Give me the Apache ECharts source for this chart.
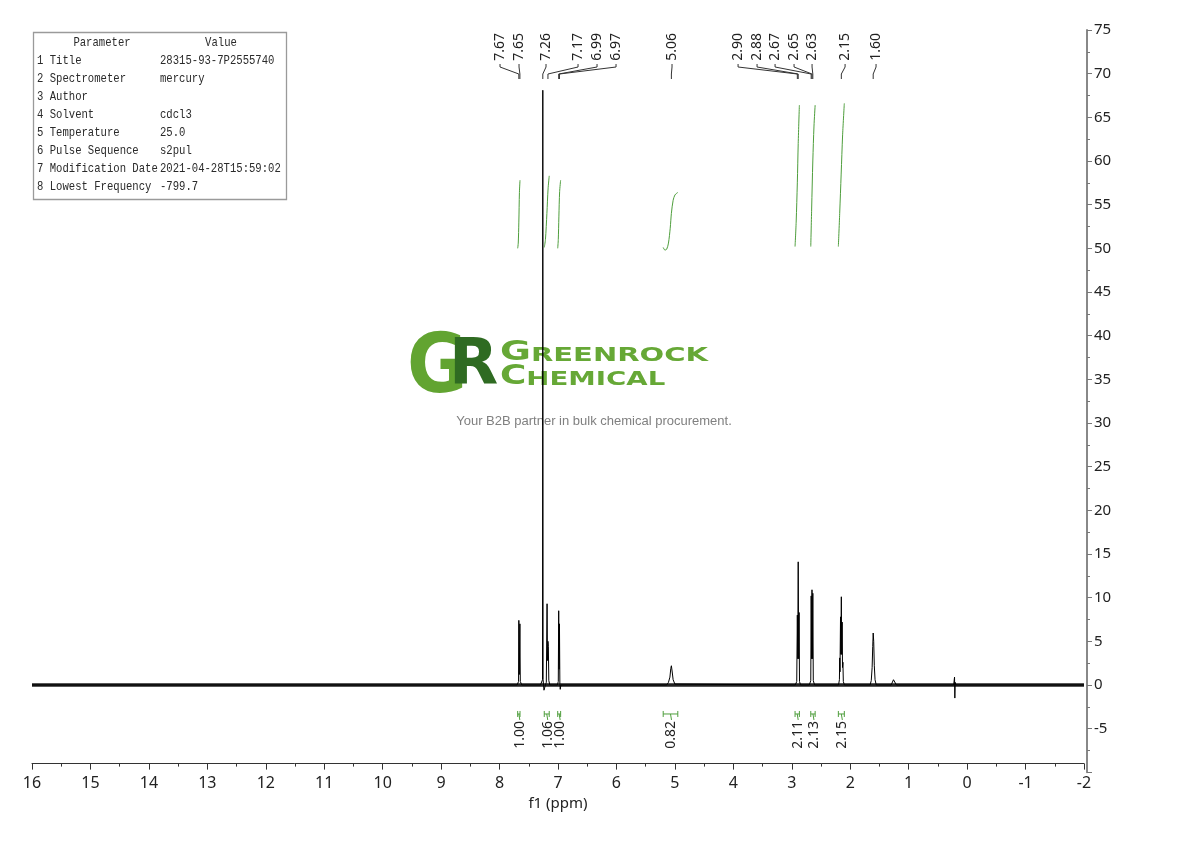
<!DOCTYPE html>
<html>
<head>
<meta charset="utf-8">
<script src="https://cdn.jsdelivr.net/npm/echarts@6/dist/echarts.min.js"></script>
<style>
html,body{margin:0;padding:0;background:#fff;}
#c{width:1190px;height:841px;}
</style>
</head>
<body>
<div id="c"></div>
<script>
// ---------- data ----------
const xRange = [-2, 16];          // ppm (axis drawn reversed)
const yRange = [-10, 75];         // intensity
const yStep = 5;

// spectrum trace [ppm, intensity]
const spectrum = [
  [16.00,0],[7.70,0],[7.675,0.4],[7.670,7.4],[7.662,1.2],[7.652,7.0],[7.645,0.4],[7.62,0],
  [7.30,0],[7.265,0.6],[7.260,68.1],[7.255,0.6],[7.24,-0.6],[7.215,0],
  [7.20,0.3],[7.187,9.3],[7.180,2.8],[7.172,5.0],[7.165,4.4],[7.157,0.5],[7.14,0],
  [7.01,0],[6.995,0.4],[6.988,8.5],[6.982,1.8],[6.975,7.0],[6.968,0.2],[6.962,-0.5],[6.95,0],
  [5.14,0],[5.11,0.3],[5.085,0.9],[5.07,1.9],[5.06,2.2],[5.048,1.6],[5.03,0.6],[5.00,0.1],[4.98,0],
  [2.94,0],[2.915,0.4],[2.905,8.0],[2.898,3.0],[2.890,14.1],[2.882,3.0],[2.875,8.3],[2.868,0.4],[2.85,0],
  [2.70,0],[2.675,0.5],[2.668,10.2],[2.661,3.0],[2.654,10.9],[2.647,3.0],[2.640,10.5],[2.632,0.5],[2.61,0],
  [2.20,0],[2.185,0.6],[2.180,3.1],[2.175,1.5],[2.166,7.8],[2.160,3.5],[2.152,10.1],[2.146,3.5],[2.138,7.2],[2.132,2.0],[2.125,2.6],[2.118,0.4],[2.10,0],
  [1.66,0],[1.64,0.5],[1.625,2.0],[1.615,4.4],[1.607,5.95],[1.598,5.0],[1.588,2.2],[1.575,0.6],[1.555,0],
  [1.30,0],[1.26,0.6],[1.24,0.4],[1.21,0],
  [0.23,0],[0.215,0.9],[0.210,-1.5],[0.204,0.3],[0.19,0],
  [-2.00,0]
];
// noise floor of the baseline
const baseline = [[16.0,0],[-2.0,0]];

// integral curves [ppm, level]
const integral1 = [[7.690,50.0],[7.680,50.6],[7.670,53.0],[7.660,56.4],[7.650,57.8]];
const integral2 = [[7.235,50.1],[7.215,51.0],[7.190,54.0],[7.170,56.8],[7.150,58.3]];
const integral3 = [[7.005,50.0],[6.995,51.0],[6.985,53.6],[6.972,56.5],[6.955,57.8]];
const integral4 = [[5.200,50.1],[5.170,49.8],[5.140,49.9],[5.110,50.6],[5.080,52.3],[5.060,54.0],[5.030,55.5],[5.000,56.1],[4.970,56.3],[4.950,56.4]];
const integral5 = [[2.944,50.2],[2.925,53.0],[2.905,57.5],[2.890,62.0],[2.870,66.4]];
const integral6 = [[2.675,50.2],[2.660,54.5],[2.640,60.0],[2.620,64.0],[2.600,66.4]];
const integral7 = [[2.203,50.2],[2.180,54.0],[2.155,58.5],[2.130,63.0],[2.101,66.6]];
const integrals = [integral1,integral2,integral3,integral4,integral5,integral6,integral7];
const integralValues = ['1.00','1.06','1.00','0.82','2.11','2.13','2.15'];

// peak picking
const peakPpm  = [7.670,7.652,7.260,7.172,6.988,6.975,5.06,2.905,2.890,2.668,2.654,2.640,2.152,1.607];
const peakText = ['7.67','7.65','7.26','7.17','6.99','6.97','5.06','2.90','2.88','2.67','2.65','2.63','2.15','1.60'];

// parameter table
const paramHeader = ['Parameter','Value'];
const paramNames  = ['1 Title','2 Spectrometer','3 Author','4 Solvent','5 Temperature','6 Pulse Sequence','7 Modification Date','8 Lowest Frequency'];
const paramValues = ['28315-93-7P2555740','mercury','','cdcl3','25.0','s2pul','2021-04-28T15:59:02','-799.7'];

// ---------- layout (not data) ----------
// where the rotated peak labels sit, spread apart along the ppm axis
const labelSlots = [7.992,7.667,7.205,6.657,6.332,6.007,5.049,3.919,3.594,3.286,2.961,2.653,2.088,1.558];
const GREEN = '#4e9e3c';
const FONT = '"Noto Sans", "Open Sans", sans-serif';

const chart = echarts.init(document.getElementById('c'), null, {renderer:'canvas'});

const tableEls = [];
tableEls.push({type:'rect', z:0, shape:{x:33.5,y:32.5,width:253,height:167}, style:{fill:'#fff', stroke:'#9a9a9a', lineWidth:1.3}});
const tFont = '10.6px "Liberation Mono", "DejaVu Sans Mono", monospace';
tableEls.push({type:'text', z:1, x:102, y:43, scaleY:1.2, style:{text:paramHeader[0], font:tFont, fill:'#2a2a2a', align:'center', verticalAlign:'middle'}});
tableEls.push({type:'text', z:1, x:221, y:43, scaleY:1.2, style:{text:paramHeader[1], font:tFont, fill:'#2a2a2a', align:'center', verticalAlign:'middle'}});
paramNames.forEach((n,i)=>{
  const y = 61 + i*17.9;
  tableEls.push({type:'text', z:1, x:37, y:y, scaleY:1.2, style:{text:n, font:tFont, fill:'#2a2a2a', align:'left', verticalAlign:'middle'}});
  tableEls.push({type:'text', z:1, x:160, y:y, scaleY:1.2, style:{text:paramValues[i], font:tFont, fill:'#2a2a2a', align:'left', verticalAlign:'middle'}});
});

const logoEls = [
  {type:'text', z:0, x:407, y:371, scaleX:0.9, style:{text:'G', font:'bold 82px "DejaVu Sans", sans-serif', fill:'#62a431', align:'left', verticalAlign:'middle'}},
  {type:'text', z:0, x:449, y:367, style:{text:'R', font:'bold 64px "DejaVu Sans", sans-serif', fill:'#2f6b22', align:'left', verticalAlign:'middle'}},
  {type:'text', z:0, x:500, y:353, scaleX:1.45, style:{text:'{a|G}{b|REENROCK}', fill:'#66a836', align:'left', verticalAlign:'middle',
     rich:{a:{font:'bold 26px "DejaVu Sans", sans-serif', fill:'#66a836', verticalAlign:'bottom'}, b:{font:'bold 20px "DejaVu Sans", sans-serif', fill:'#66a836', verticalAlign:'bottom'}}}},
  {type:'text', z:0, x:500, y:377, scaleX:1.38, style:{text:'{a|C}{b|HEMICAL}', fill:'#66a836', align:'left', verticalAlign:'middle',
     rich:{a:{font:'bold 26px "DejaVu Sans", sans-serif', fill:'#66a836', verticalAlign:'bottom'}, b:{font:'bold 20px "DejaVu Sans", sans-serif', fill:'#66a836', verticalAlign:'bottom'}}}},
  {type:'text', z:0, x:594, y:421, style:{text:'Your B2B partner in bulk chemical procurement.', font:'13px "Liberation Sans", Arial, sans-serif', fill:'#808080', align:'center', verticalAlign:'middle'}}
];

const series = [];
series.push({type:'line', name:'noise', data:baseline, symbol:'none', silent:true, z:2,
  lineStyle:{color:'#222', width:3.5}, animation:false});
series.push({type:'line', name:'spectrum', data:spectrum, symbol:'none', silent:true, z:3,
  lineStyle:{color:'#000', width:1}, animation:false});
integrals.forEach((d,i)=>{
  series.push({type:'line', name:'integral'+(i+1), data:d, symbol:'none', smooth:0.3, silent:true, z:3,
    lineStyle:{color:GREEN, width:1}, animation:false});
});
// peak labels with leader lines
series.push({type:'custom', name:'peakLabels', silent:true, z:4, animation:false,
  data: peakPpm.map((p,i)=>[p, 70, i]),
  encode:{x:0, y:1},
  renderItem:function(params, api){
    const i = api.value(2);
    const px = api.coord([peakPpm[i], 0])[0];
    const lx = api.coord([labelSlots[i], 0])[0];
    const top = params.coordSys.y;
    return {type:'group', children:[
      {type:'text', x:lx, y:top+3, rotation:Math.PI/2,
        style:{text:peakText[i], font:'14px '+FONT, fill:'#222', align:'right', verticalAlign:'middle'}},
      {type:'polyline', shape:{points:[[lx,top+34],[lx,top+37],[px,top+44],[px,top+49]]},
        style:{stroke:'#333', lineWidth:1, fill:null}}
    ]};
  }
});
// integration brackets and values
series.push({type:'custom', name:'integralLabels', silent:true, z:4, animation:false,
  data: integrals.map((d,i)=>[d[0][0], -5, i]),
  encode:{x:0, y:1},
  renderItem:function(params, api){
    const i = api.value(2);
    const d = integrals[i];
    const x1 = api.coord([d[0][0], 0])[0];
    const x2 = api.coord([d[d.length-1][0], 0])[0];
    const zy = api.coord([0, 0])[1];
    const by = zy + 29;
    const cx = (x1 + x2) / 2;
    return {type:'group', children:[
      {type:'polyline', shape:{points:[[x1,by-3],[x1,by+3]]}, style:{stroke:GREEN, lineWidth:1, fill:null}},
      {type:'polyline', shape:{points:[[x2,by-3],[x2,by+3]]}, style:{stroke:GREEN, lineWidth:1, fill:null}},
      {type:'polyline', shape:{points:[[x1,by],[x2,by]]}, style:{stroke:GREEN, lineWidth:1, fill:null}},
      {type:'polyline', shape:{points:[[cx,by],[cx+1,by+6]]}, style:{stroke:GREEN, lineWidth:1, fill:null}},
      {type:'text', x:cx+1, y:by+7, rotation:Math.PI/2,
        style:{text:integralValues[i], font:'14px '+FONT, fill:'#222', align:'right', verticalAlign:'middle'}}
    ]};
  }
});

const gridTop = 30, gridBottomPx = 772.3;
chart.setOption({
  animation:false,
  backgroundColor:'#fff',
  grid:{left:32, right:106, top:gridTop, bottom:841-gridBottomPx, containLabel:false},
  xAxis:{type:'value', min:xRange[0], max:xRange[1], interval:1, inverse:true, offset:-8.7,
    name:'f1 (ppm)', nameLocation:'middle', nameGap:29,
    nameTextStyle:{fontFamily:FONT, fontSize:15, color:'#222'},
    axisLine:{show:true, onZero:false, lineStyle:{color:'#333', width:1}},
    axisTick:{show:true, length:6, lineStyle:{color:'#333'}},
    minorTick:{show:true, splitNumber:2, length:3, lineStyle:{color:'#333'}},
    axisLabel:{fontFamily:FONT, fontSize:16, color:'#222', margin:12},
    splitLine:{show:false}, minorSplitLine:{show:false}},
  yAxis:{type:'value', position:'right', min:yRange[0], max:yRange[1], interval:yStep, offset:3,
    axisLine:{show:true, onZero:false, lineStyle:{color:'#888', width:2}},
    axisTick:{show:true, length:5, lineStyle:{color:'#777'}},
    minorTick:{show:true, splitNumber:2, length:3, lineStyle:{color:'#777'}},
    axisLabel:{fontFamily:FONT, fontSize:15, color:'#222', margin:7,
      formatter:function(v){ return v < -9 ? '' : String(v); }},
    splitLine:{show:false}, minorSplitLine:{show:false}},
  graphic:{elements: tableEls.concat(logoEls)},
  series:series
});
</script>
</body>
</html>
